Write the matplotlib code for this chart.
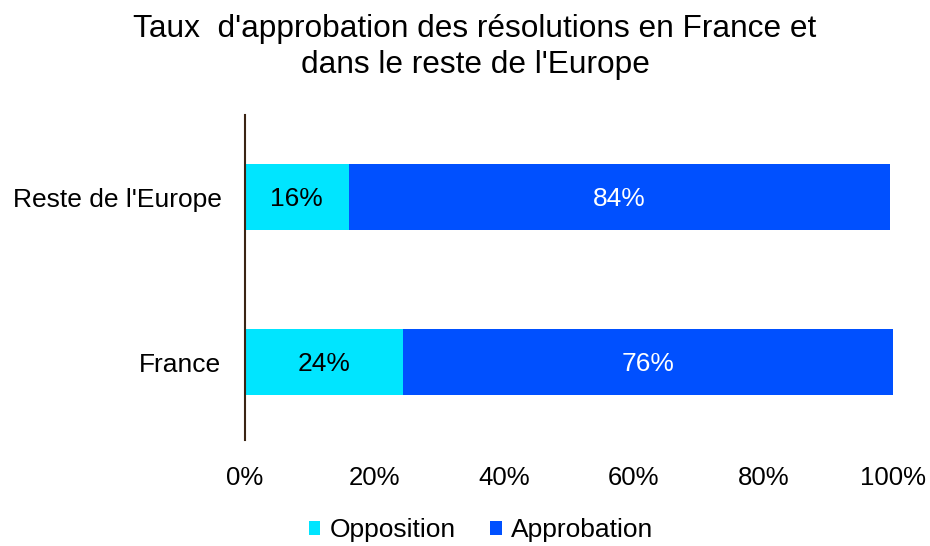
import matplotlib.pyplot as plt
import numpy as np

plt.rcParams['font.family'] = ['Liberation Sans', 'DejaVu Sans']

categories = ["France", "Reste de l'Europe"]
opposition = [24.4, 16.0]
approbation = [75.6, 83.5]
xticks = [0, 20, 40, 60, 80, 100]

fig = plt.figure(figsize=(9.3, 5.46), dpi=100)
ax = fig.add_axes([245/930, 1 - 440/546, (893-245)/930, 325/546])

y = np.arange(len(categories))
b1 = ax.barh(y, opposition, height=0.4, color="#00E5FF", label="Opposition")
b2 = ax.barh(y, approbation, left=opposition, height=0.4, color="#0050FF", label="Approbation")

for i in range(len(categories)):
    ax.text(opposition[i] / 2, y[i] - 0.01, "{:.0f}%".format(opposition[i]),
            ha="center", va="center", fontsize=19, color="black")
    ax.text(opposition[i] + approbation[i] / 2, y[i] - 0.01, "{:.0f}%".format(approbation[i]),
            ha="center", va="center", fontsize=19, color="white")

ax.set_xlim(0, 100)
ax.set_ylim(-0.47, 1.5)
ax.set_yticks(y)
ax.set_yticklabels(categories, fontsize=19)
ax.set_xticks(xticks)
ax.set_xticklabels(["{}%".format(t) for t in xticks], fontsize=18.5)
ax.tick_params(axis="y", length=0, pad=17)
ax.tick_params(axis="x", length=0, pad=19)

for s in ["top", "right", "bottom"]:
    ax.spines[s].set_visible(False)
ax.spines["left"].set_color("#3a2414")
ax.spines["left"].set_linewidth(1.5)

fig.suptitle("Taux  d'approbation des résolutions en France et\ndans le reste de l'Europe",
             fontsize=22.8, x=475/930, y=1 - 14/546, va="top", linespacing=1.25)

fig.legend(handles=[b1, b2], loc="center", bbox_to_anchor=(481/930, 1 - 530/546),
           ncol=2, frameon=False, fontsize=19, handlelength=0.45, handleheight=0.45,
           handletextpad=0.35, columnspacing=1.3)

fig.savefig("out.png", dpi=100)
